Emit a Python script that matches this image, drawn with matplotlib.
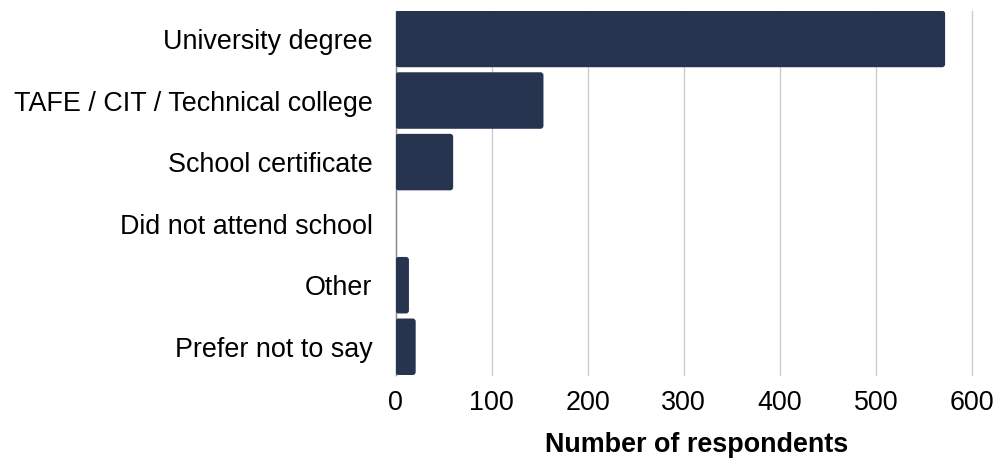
import matplotlib.pyplot as plt
from matplotlib.patches import FancyBboxPatch

plt.rcParams['font.family'] = ['Liberation Sans', 'DejaVu Sans']

categories = ['University degree', 'TAFE / CIT / Technical college', 'School certificate',
              'Did not attend school', 'Other', 'Prefer not to say']
respondents = [572, 154, 60, 0, 14, 21]
xticks = [0, 100, 200, 300, 400, 500, 600]

bar_color = '#263450'

fig = plt.figure(figsize=(10, 4.58), dpi=100)
ax = fig.add_axes([0.3955, 0.1812, 0.5765, 0.7954])

bars = ax.barh(range(len(categories)), respondents, height=0.918, color=bar_color, zorder=2)

# swap the plain rectangles for slightly rounded ones (about 3 px radius)
px_x = 600 / 576.5          # data units per pixel along x
px_y = (len(categories) - 1 + 0.918) / 364.3
for rect in bars.patches:
    w = rect.get_width()
    if w <= 0:
        rect.set_visible(False)
        continue
    r = min(3 * px_x, w / 2)
    fb = FancyBboxPatch((rect.get_x(), rect.get_y()), w, rect.get_height(),
                        boxstyle=f'round,pad=0,rounding_size={r}',
                        mutation_aspect=px_y / px_x,
                        facecolor=bar_color, edgecolor='none', zorder=2)
    rect.set_visible(False)
    ax.add_patch(fb)

ax.set_xlim(0, 600)
ax.set_ylim(len(categories) - 1 + 0.459, -0.459)
ax.set_xticks(xticks)
ax.set_yticks(range(len(categories)))
ax.set_yticklabels(categories)

ax.tick_params(axis='both', length=0, labelsize=19.4, colors='black')
ax.tick_params(axis='y', pad=16.5)
ax.tick_params(axis='x', pad=11)

ax.grid(axis='x', color='#cccccc', linewidth=1, zorder=0)
ax.set_axisbelow(True)
for line in ax.get_xgridlines():
    line.set_clip_on(False)   # keep the 600 line at the right edge
for side in ['top', 'right', 'bottom']:
    ax.spines[side].set_visible(False)
ax.spines['left'].set_color('#8a8a8a')
ax.spines['left'].set_linewidth(1)
ax.spines['left'].set_zorder(1)

ax.set_xlabel('Number of respondents', fontsize=19.4, fontweight='bold', va='center')
ax.xaxis.set_label_coords(0.523, -0.192)

fig.savefig('out.png', dpi=100)
